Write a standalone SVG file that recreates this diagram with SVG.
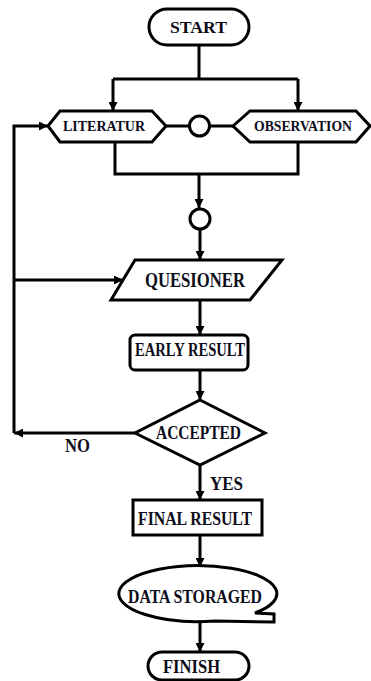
<svg xmlns="http://www.w3.org/2000/svg" width="371" height="681" viewBox="0 0 371 681">
<defs>
<style>
.s{fill:#fff;stroke:#000;stroke-width:3;stroke-linejoin:miter}
.c{fill:none;stroke:#000;stroke-width:3}
.t{font-family:"Liberation Serif","Times New Roman",serif;font-weight:bold;fill:#0d0d1a;text-anchor:middle}
</style>
<marker id="ah" viewBox="0 0 10 10" refX="10" refY="5" markerWidth="3" markerHeight="3" orient="auto" markerUnits="strokeWidth">
<path d="M0,0 L10,5 L0,10 Z" fill="#000"/>
</marker>
</defs>
<rect width="371" height="681" fill="#fff"/>
<g id="connectors">
<path class="c" d="M199,45 V79 M113,79 H298"/>
<path class="c" d="M113,79 V111" marker-end="url(#ah)"/>
<path class="c" d="M298,79 V111" marker-end="url(#ah)"/>
<path class="c" d="M166,126 H189 M210,126 H233"/>
<path class="c" d="M115,142 V174 H298 V142"/>
<path class="c" d="M199,174 V208" marker-end="url(#ah)"/>
<path class="c" d="M200,229 V260" marker-end="url(#ah)"/>
<path class="c" d="M200,300 V335" marker-end="url(#ah)"/>
<path class="c" d="M200,370 V400" marker-end="url(#ah)"/>
<path class="c" d="M200,465 V500" marker-end="url(#ah)"/>
<path class="c" d="M200,535 V567" marker-end="url(#ah)"/>
<path class="c" d="M200,622 V652" marker-end="url(#ah)"/>
<path class="c" d="M135,433 H14" marker-end="url(#ah)"/>
<path class="c" d="M14,433 V126 H48" marker-end="url(#ah)"/>
<path class="c" d="M14,280 H123" marker-end="url(#ah)"/>
</g>
<g id="start">
<rect class="s" x="149" y="9" width="100" height="36" rx="18"/>
<text class="t" x="198.5" y="33" font-size="17.5" textLength="57" lengthAdjust="spacingAndGlyphs">START</text>
</g>
<g id="literatur">
<polygon class="s" points="48,126 60,111 152,111 166,126 152,142 60,142"/>
<text class="t" x="104" y="130.5" font-size="15" textLength="82" lengthAdjust="spacingAndGlyphs">LITERATUR</text>
</g>
<g id="junction1">
<circle class="s" cx="199.5" cy="126" r="10"/>
</g>
<g id="observation">
<polygon class="s" points="233,126 250,111 356,111 370,126 356,142 250,142"/>
<text class="t" x="303" y="130.5" font-size="15" textLength="98" lengthAdjust="spacingAndGlyphs">OBSERVATION</text>
</g>
<g id="junction2">
<circle class="s" cx="200" cy="219" r="10"/>
</g>
<g id="quesioner">
<polygon class="s" points="135,260 282,260 250,300 111,300"/>
<text class="t" x="195" y="287" font-size="20" textLength="100" lengthAdjust="spacingAndGlyphs">QUESIONER</text>
</g>
<g id="early">
<rect class="s" x="130" y="335" width="118" height="35" rx="5"/>
<text class="t" x="190" y="355.5" font-size="19.5" textLength="110" lengthAdjust="spacingAndGlyphs">EARLY RESULT</text>
</g>
<g id="accepted">
<polygon class="s" points="200,400 265,433 200,465 135,433"/>
<text class="t" x="198.5" y="439" font-size="18" textLength="85" lengthAdjust="spacingAndGlyphs">ACCEPTED</text>
</g>
<g id="labels">
<text class="t" x="77.5" y="452" font-size="18" textLength="25" lengthAdjust="spacingAndGlyphs">NO</text>
<text class="t" x="226.5" y="490" font-size="18" textLength="33" lengthAdjust="spacingAndGlyphs">YES</text>
</g>
<g id="final">
<rect class="s" x="133" y="500" width="129" height="35"/>
<text class="t" x="195" y="525" font-size="18" textLength="114" lengthAdjust="spacingAndGlyphs">FINAL RESULT</text>
</g>
<g id="data">
<path class="s" d="M255,613 A79,28 0 1 0 215,621 L274,622 L274,614 Z"/>
<text class="t" x="195" y="602.5" font-size="19" textLength="134" lengthAdjust="spacingAndGlyphs">DATA STORAGED</text>
</g>
<g id="finish">
<rect class="s" x="148" y="652" width="101" height="28" rx="14"/>
<text class="t" x="191.5" y="673" font-size="19" textLength="57" lengthAdjust="spacingAndGlyphs">FINISH</text>
</g>
</svg>
